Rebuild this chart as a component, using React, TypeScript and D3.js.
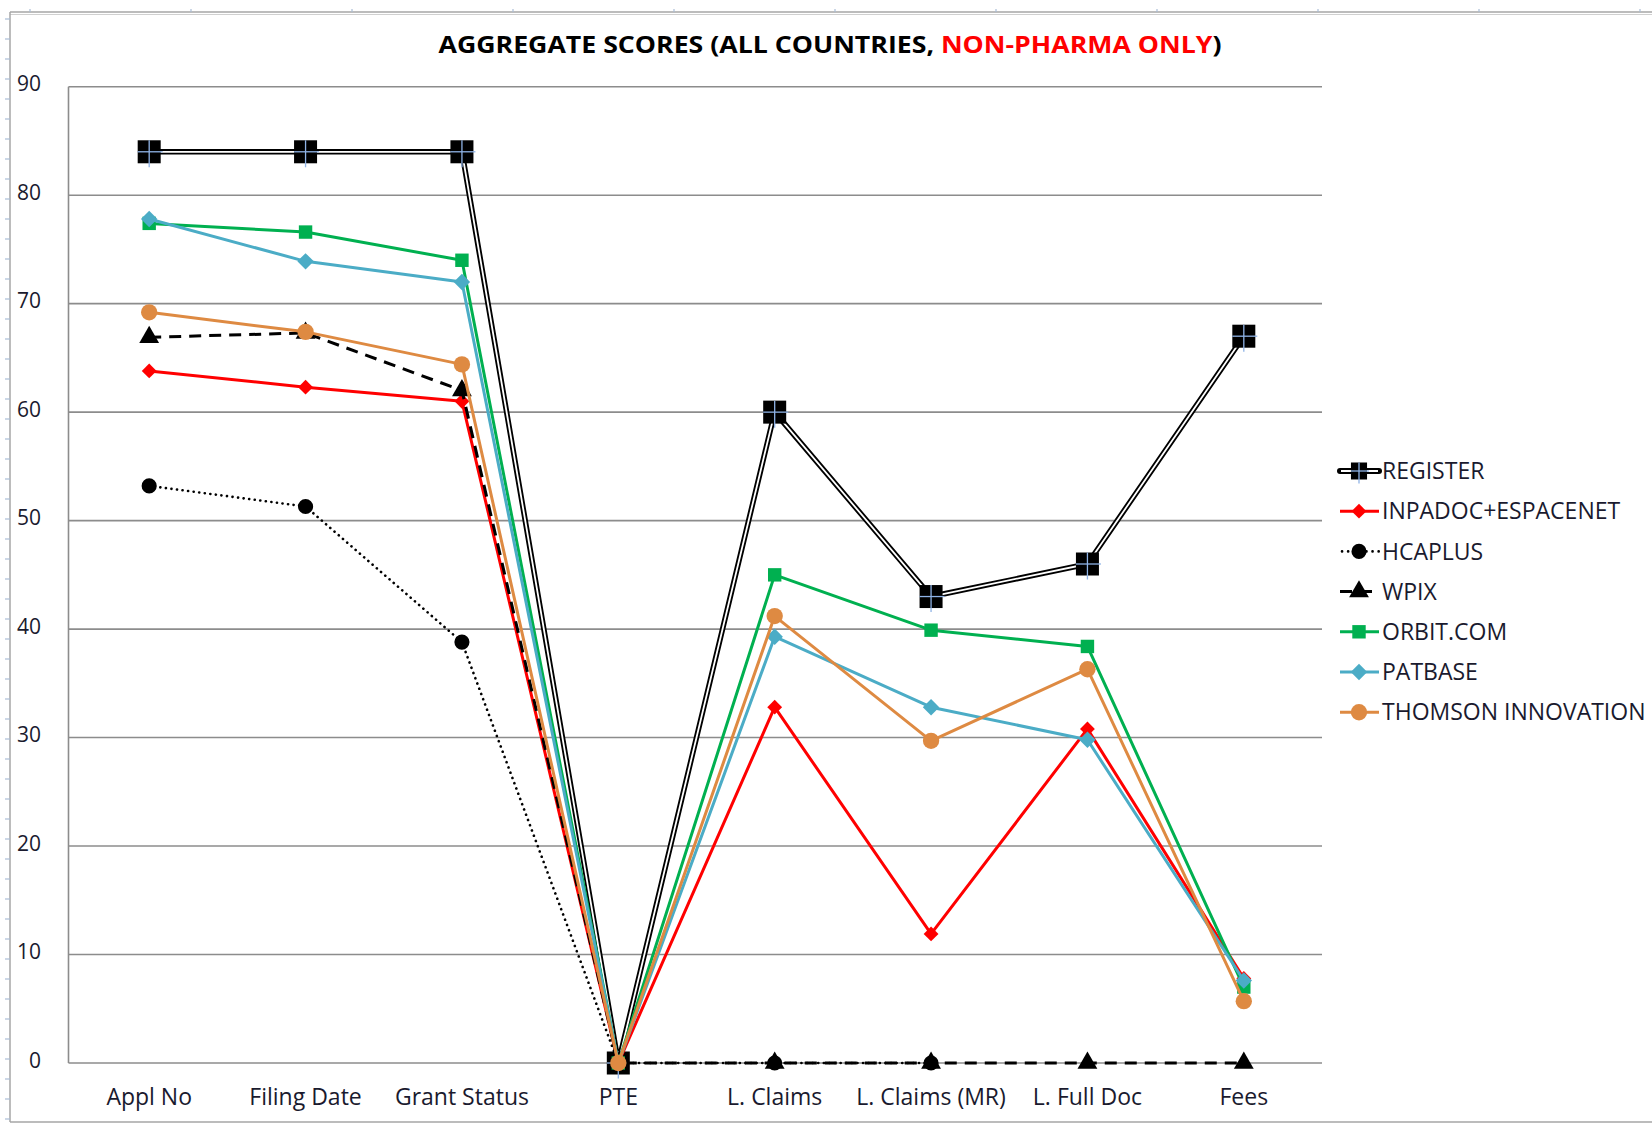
import React from "react";
import * as d3 from "d3";

const categories = ["Appl No", "Filing Date", "Grant Status", "PTE", "L. Claims", "L. Claims (MR)", "L. Full Doc", "Fees"];
const yTicks = [0, 10, 20, 30, 40, 50, 60, 70, 80, 90];

const registerVals = [84, 84, 84, 0, 60, 43, 46, 67];
const inpadocVals = [63.8, 62.3, 61.0, 0, 32.8, 11.9, 30.8, 7.8];
const hcaplusVals: (number | null)[] = [53.2, 51.3, 38.8, 0, 0, 0, null, null];
const wpixVals = [66.9, 67.3, 62.0, 0, 0, 0, 0, 0];
const orbitVals = [77.4, 76.6, 74.0, 0, 45.0, 39.9, 38.4, 7.0];
const patbaseVals = [77.8, 73.9, 72.0, 0, 39.3, 32.8, 29.8, 7.6];
const thomsonVals = [69.2, 67.4, 64.4, 0, 41.2, 29.7, 36.3, 5.7];

const seriesNames = ["REGISTER", "INPADOC+ESPACENET", "HCAPLUS", "WPIX", "ORBIT.COM", "PATBASE", "THOMSON INNOVATION"];

type Series = {
  name: string;
  values: (number | null)[];
  color: string;
  kind: string;
};

const series: Series[] = [
  { name: seriesNames[0], values: registerVals, color: "#000000", kind: "register" },
  { name: seriesNames[1], values: inpadocVals, color: "#FF0000", kind: "diamondSmall" },
  { name: seriesNames[2], values: hcaplusVals, color: "#000000", kind: "dotCircle" },
  { name: seriesNames[3], values: wpixVals, color: "#000000", kind: "dashTriangle" },
  { name: seriesNames[4], values: orbitVals, color: "#00B050", kind: "square" },
  { name: seriesNames[5], values: patbaseVals, color: "#4BACC6", kind: "diamond" },
  { name: seriesNames[6], values: thomsonVals, color: "#DE8A42", kind: "circle" },
];

const FONT = "'Open Sans', 'DejaVu Sans', sans-serif";

const plot = { left: 68.5, scaleLeft: 71, right: 1322, top: 86.7, bottom: 1063 };

function Marker({ kind, color, x, y, legend }: { kind: string; color: string; x: number; y: number; legend?: boolean }) {
  const sc = legend ? 0.7 : 1;
  if (kind === "register") {
    const s = 23 * sc;
    const h = legend ? 17 : 23;
    return (
      <g>
        <rect x={x - s / 2} y={y - h / 2} width={s} height={h} fill="#000" />
        <line x1={x} x2={x} y1={y - h / 2} y2={y + h / 2 + 4} stroke="#8FB3E6" strokeWidth={1.3} />
        <line x1={x - s / 2} x2={x + s / 2 + 2} y1={y} y2={y} stroke="#8FB3E6" strokeWidth={1.3} />
      </g>
    );
  }
  let path = "";
  let rot = 0;
  if (kind === "diamondSmall") { path = d3.symbol().type(d3.symbolSquare).size(110)()!; rot = 45; }
  else if (kind === "diamond") { path = d3.symbol().type(d3.symbolSquare).size(135)()!; rot = 45; }
  else if (kind === "square") { path = d3.symbol().type(d3.symbolSquare).size(180)()!; }
  else if (kind === "circle") { path = d3.symbol().type(d3.symbolCircle).size(210)()!; }
  else if (kind === "dotCircle") { path = d3.symbol().type(d3.symbolCircle).size(180)()!; }
  else if (kind === "dashTriangle") { path = d3.symbol().type(d3.symbolTriangle).size(170)()!; }
  return <path d={path} transform={`translate(${x},${y}) rotate(${rot})`} fill={color} />;
}

function SeriesLine({ s, x, y }: { s: Series; x: d3.ScalePoint<string>; y: d3.ScaleLinear<number, number> }) {
  const pts = s.values.map((v, i) => ({ c: categories[i], v }));
  const line = d3
    .line<{ c: string; v: number | null }>()
    .defined((d) => d.v !== null)
    .x((d) => x(d.c)!)
    .y((d) => y(d.v as number));
  const d = line(pts)!;
  let lineEls: React.ReactNode;
  if (s.kind === "register") {
    lineEls = (
      <g>
        <path d={d} fill="none" stroke="#000" strokeWidth={5.5} strokeLinejoin="round" />
        <path d={d} fill="none" stroke="#fff" strokeWidth={1.8} strokeLinejoin="round" />
      </g>
    );
  } else if (s.kind === "dotCircle") {
    lineEls = <path d={d} fill="none" stroke="#000" strokeWidth={2.6} strokeDasharray="0.1 5.5" strokeLinecap="round" />;
  } else if (s.kind === "dashTriangle") {
    lineEls = <path d={d} fill="none" stroke="#000" strokeWidth={3} strokeDasharray="12 8" />;
  } else {
    lineEls = <path d={d} fill="none" stroke={s.color} strokeWidth={3} strokeLinejoin="round" />;
  }
  return (
    <g>
      {lineEls}
      {pts.filter((p) => p.v !== null).map((p, i) => (
        <Marker key={i} kind={s.kind} color={s.color} x={x(p.c)!} y={y(p.v as number)} />
      ))}
    </g>
  );
}

function LegendItem({ s, yPos }: { s: Series; yPos: number }) {
  const x0 = 1340, x1 = 1379, xm = 1359;
  let lineEl: React.ReactNode;
  if (s.kind === "register") {
    lineEl = (
      <g>
        <line x1={x0} x2={x1} y1={yPos} y2={yPos} stroke="#000" strokeWidth={6} strokeLinecap="round" />
        <line x1={x0 + 1} x2={x1 - 1} y1={yPos} y2={yPos} stroke="#fff" strokeWidth={2} />
      </g>
    );
  } else if (s.kind === "dotCircle") {
    lineEl = <line x1={x0 + 2} x2={x1} y1={yPos} y2={yPos} stroke="#000" strokeWidth={2.6} strokeDasharray="0.1 6" strokeLinecap="round" />;
  } else if (s.kind === "dashTriangle") {
    lineEl = <line x1={x0} x2={x1} y1={yPos} y2={yPos} stroke="#000" strokeWidth={3} strokeDasharray="12 8" />;
  } else {
    lineEl = <line x1={x0} x2={x1} y1={yPos} y2={yPos} stroke={s.color} strokeWidth={3} />;
  }
  return (
    <g>
      {lineEl}
      <Marker kind={s.kind} color={s.color} x={xm} y={yPos} legend />
      <text x={1382} y={yPos} dy="0.36em" fontSize={23} fontFamily={FONT} fill="#1a1a2e">
        {s.name}
      </text>
    </g>
  );
}

export default function App() {
  const W = 1652, H = 1124;
  const x = d3.scalePoint<string>().domain(categories).range([plot.scaleLeft, plot.right]).padding(0.5);
  const y = d3.scaleLinear().domain([0, 90]).range([plot.bottom, plot.top]);

  const leftTicks = d3.range(19, 1124, 20);
  const topTicks = d3.range(1640, 0, -161);

  return (
    <svg width={W} height={H} style={{ position: "absolute", left: 0, top: 0, background: "#fff" }}>
      <rect x={0} y={0} width={W} height={H} fill="#fff" />
      {/* outer frame */}
      <line x1={10} x2={W} y1={12} y2={12} stroke="#A6A6A6" strokeWidth={1.5} />
      <line x1={10} x2={W} y1={14.5} y2={14.5} stroke="#D0D0D0" strokeWidth={1} />
      <line x1={10} x2={10} y1={12} y2={1122} stroke="#A6A6A6" strokeWidth={1.5} />
      <line x1={10} x2={W} y1={1122} y2={1122} stroke="#A6A6A6" strokeWidth={1.5} />
      {leftTicks.map((t) => (
        <line key={t} x1={5} x2={10} y1={t} y2={t} stroke="#A9BCD6" strokeWidth={1.2} />
      ))}
      {topTicks.map((t) => (
        <line key={t} x1={t} x2={t} y1={9} y2={12} stroke="#A9BCD6" strokeWidth={1.2} />
      ))}

      {/* title */}
      <text x={830} y={44} dy="0.36em" textAnchor="middle" fontSize={24} fontWeight="bold" fontFamily={FONT} textLength={783} lengthAdjust="spacingAndGlyphs">
        <tspan fill="#000">AGGREGATE SCORES (ALL COUNTRIES, </tspan>
        <tspan fill="#FF0000">NON-PHARMA ONLY</tspan>
        <tspan fill="#000">)</tspan>
      </text>

      {/* gridlines */}
      {yTicks.map((t) => (
        <line key={t} x1={plot.left} x2={plot.right} y1={y(t)} y2={y(t)} stroke="#8C8C8C" strokeWidth={1.6} />
      ))}
      <line x1={plot.left} x2={plot.left} y1={plot.top} y2={plot.bottom} stroke="#8C8C8C" strokeWidth={1.6} />

      {/* y labels */}
      {yTicks.map((t) => (
        <text key={t} x={41} y={y(t) - 3} dy="0.36em" textAnchor="end" fontSize={21} fontFamily={FONT} fill="#1a1a2e">
          {t}
        </text>
      ))}

      {/* x labels */}
      {categories.map((c) => (
        <text key={c} x={x(c)!} y={1097} dy="0.36em" textAnchor="middle" fontSize={23} fontFamily={FONT} fill="#1a1a2e">
          {c}
        </text>
      ))}

      {/* series */}
      {series.map((s) => (
        <SeriesLine key={s.name} s={s} x={x} y={y} />
      ))}

      {/* legend */}
      {series.map((s, i) => (
        <LegendItem key={s.name} s={s} yPos={471 + i * 40.2} />
      ))}
    </svg>
  );
}
